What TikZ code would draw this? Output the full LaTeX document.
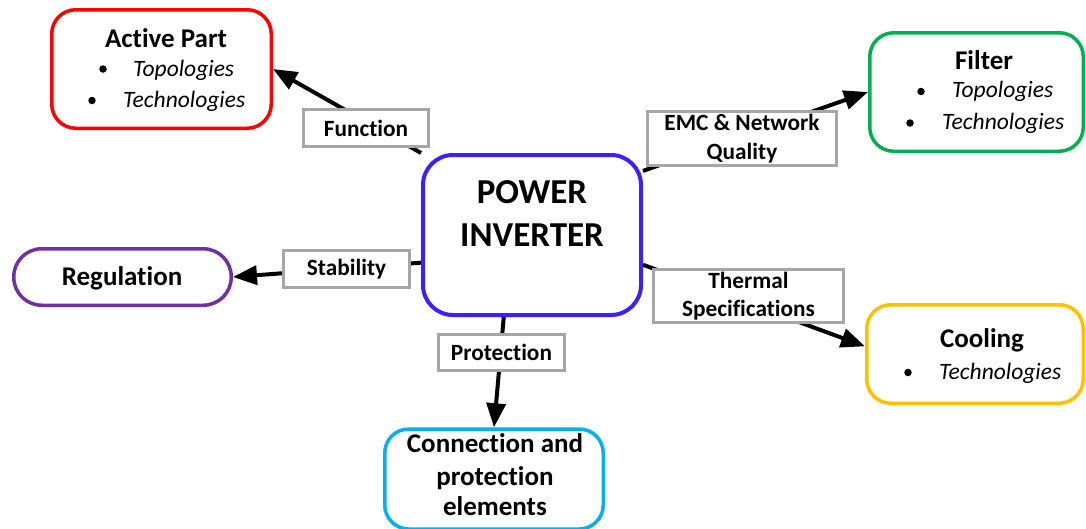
\documentclass[tikz,border=0pt]{standalone}
\usepackage{fontspec}
\setmainfont{Carlito}[Ligatures=NoCommon]
\usetikzlibrary{arrows.meta}
\pgfdeclarelayer{bg}
\pgfsetlayers{bg,main}

\definecolor{cRed}{HTML}{FF0000}
\definecolor{cGreen}{HTML}{00B050}
\definecolor{cPurple}{HTML}{7030A0}
\definecolor{cSky}{HTML}{00B0F0}
\definecolor{cGold}{HTML}{FFC000}
\definecolor{cBlue}{HTML}{3A22FF}
\definecolor{cGray}{HTML}{A6A6A6}

\tikzset{
  box/.style={draw, line width=3.5pt, rounded corners=24pt, fill=white, inner sep=0pt},
  tag/.style={draw=cGray, line width=3.5pt, fill=white, inner sep=0pt, align=center,
              font=\bfseries\fontsize{23.3}{28.5}\selectfont},
  head/.style={anchor=base, inner sep=0pt, font=\bfseries\fontsize{27}{32}\selectfont},
  item/.style={anchor=base west, inner sep=0pt, font=\itshape\fontsize{23.5}{26}\selectfont},
  dot/.style={circle, fill=black, inner sep=0pt, minimum size=7.5pt},
  link/.style={line width=4pt, -{Triangle[length=24pt,width=19pt]}},
}

\begin{document}
\begin{tikzpicture}[x=1pt,y=-1pt]
\useasboundingbox (0,0) rectangle (1086,528);

% central block
\node[box, draw=cBlue, line width=4pt, rounded corners=30pt,
      minimum width=218pt, minimum height=160pt] (cen) at (532,235) {};
\node[head, font=\bfseries\fontsize{35}{40}\selectfont] (cen-t1) at (532,203) {POWER};
\node[head, font=\bfseries\fontsize{35}{40}\selectfont] (cen-t2) at (532,246) {INVERTER};

% active part
\node[box, draw=cRed, minimum width=219.5pt, minimum height=118.5pt] (act) at (161.5,69) {};
\node[head] (act-t) at (166,47) {Active Part};
\node[dot] (act-d1) at (103,69) {};
\node[item] (act-i1) at (133,76) {Topologies};
\node[dot] (act-d2) at (92,100.5) {};
\node[item] (act-i2) at (123,107) {Technologies};

% filter
\node[box, draw=cGreen, minimum width=213.5pt, minimum height=118.5pt] (fil) at (976.5,92) {};
\node[head] (fil-t) at (984,69) {Filter};
\node[dot] (fil-d1) at (921,91.5) {};
\node[item] (fil-i1) at (952,97) {Topologies};
\node[dot] (fil-d2) at (910,123) {};
\node[item] (fil-i2) at (942,129) {Technologies};

% regulation
\node[box, draw=cPurple, rounded corners=28pt, minimum width=217.5pt, minimum height=56.5pt] (reg) at (122.5,277) {};
\node[head] (reg-t) at (122,285) {Regulation};

% cooling
\node[box, draw=cGold, minimum width=216.5pt, minimum height=98.5pt] (coo) at (975,354) {};
\node[head] (coo-t) at (982,347) {Cooling};
\node[dot] (coo-d1) at (908,372.5) {};
\node[item] (coo-i1) at (939,379) {Technologies};

% connection and protection elements
\node[box, draw=cSky, minimum width=218.5pt, minimum height=100pt] (con) at (494,479) {};
\node[head] (con-t1) at (495,452) {Connection and};
\node[head] (con-t2) at (495,485) {protection};
\node[head] (con-t3) at (495,515) {elements};

% connectors
\begin{pgfonlayer}{bg}
\draw[link] (cen.north west) -- (act.east);
\draw[link] (cen.30) -- (fil.west);
\draw[link] (cen.194) -- (reg.east);
\draw[link] (cen.345) -- (coo.176);
\draw[link] (cen.251) -- (con.north);
\end{pgfonlayer}

% connector labels
\node[tag, minimum width=125pt, minimum height=37pt] (lab-fun) at (366,128) {Function};
\node[tag, minimum width=189pt, minimum height=54pt] (lab-emc) at (742,138.5) {EMC \& Network\\Quality};
\node[tag, minimum width=126pt, minimum height=37pt] (lab-sta) at (346.5,269) {Stability};
\node[tag, minimum width=190pt, minimum height=53pt] (lab-the) at (748.5,296) {Thermal\\Specifications};
\node[tag, minimum width=126pt, minimum height=36pt] (lab-pro) at (501.5,352.5) {Protection};
\end{tikzpicture}
\end{document}
